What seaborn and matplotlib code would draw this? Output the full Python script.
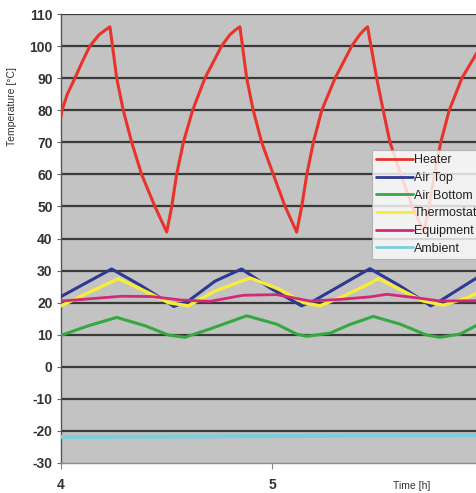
import matplotlib
matplotlib.use("Agg")
import matplotlib.pyplot as plt
import seaborn as sns
import pandas as pd

# ---- data ----
heater_t = [4.000, 4.005, 4.030, 4.066, 4.100, 4.137, 4.180, 4.210, 4.232, 4.264, 4.295, 4.335, 4.382, 4.445, 4.501,
            4.525, 4.548, 4.580, 4.624, 4.682, 4.761, 4.800, 4.826, 4.848, 4.880, 4.911, 4.951, 5.006, 5.062, 5.117,
            5.141, 5.165, 5.196, 5.236, 5.299, 5.378, 5.415, 5.436, 5.453, 5.496, 5.527, 5.559, 5.610, 5.665, 5.720,
            5.745, 5.770, 5.800, 5.840, 5.900, 5.972]
heater_v = [78, 80, 85, 90, 95, 100, 103.5, 105, 106, 90, 80, 70, 60, 50, 42,
            50, 60, 70, 80, 90, 100, 103.5, 105, 106, 90, 80, 70, 60, 50, 42,
            50, 60, 70, 80, 90, 100, 103.5, 105, 106, 90, 80, 70, 60, 50, 42,
            50, 60, 70, 80, 90, 98]

airtop_t = [4.000, 4.240, 4.382, 4.535, 4.603, 4.730, 4.856, 4.990, 5.140, 5.196, 5.464, 5.607, 5.752, 5.796, 5.972]
airtop_v = [21.9, 30.5, 25.2, 18.8, 20.5, 26.7, 30.5, 24.6, 19.0, 20.5, 30.6, 25.2, 19.0, 20.5, 27.8]

airbot_t = [4.000, 4.130, 4.264, 4.398, 4.509, 4.588, 4.706, 4.880, 5.022, 5.117, 5.164, 5.275, 5.370, 5.480,
            5.607, 5.733, 5.796, 5.891, 5.972]
airbot_v = [9.8, 12.8, 15.4, 12.8, 9.9, 9.2, 11.8, 15.9, 13.3, 10.2, 9.5, 10.5, 13.2, 15.7,
            13.3, 9.9, 9.2, 10.2, 13.0]

thermo_t = [4.000, 4.130, 4.272, 4.414, 4.509, 4.603, 4.730, 4.896, 5.038, 5.149, 5.227, 5.338, 5.464, 5.505,
            5.622, 5.717, 5.812, 5.923, 5.972]
thermo_v = [19.0, 23.1, 27.5, 23.1, 20.0, 19.0, 23.6, 27.7, 24.1, 20.0, 19.0, 22.0, 26.0, 27.5,
            23.6, 20.5, 19.2, 21.5, 23.0]

equip_t = [4.000, 4.100, 4.288, 4.430, 4.572, 4.706, 4.864, 5.022, 5.180, 5.320, 5.464, 5.544, 5.686, 5.796, 5.972]
equip_v = [20.5, 21.0, 22.0, 21.9, 20.8, 20.4, 22.3, 22.5, 20.5, 21.0, 21.8, 22.6, 21.5, 20.5, 20.6]

amb_t = [4.000, 5.000, 5.972]
amb_v = [-21.9, -21.6, -21.3]

series_names = ["Heater", "Air Top", "Air Bottom", "Thermostat", "Equipment", "Ambient"]
y_ticks = list(range(-30, 111, 10))
x_ticks = [4, 5]

colors = {"Heater": "#E8332B", "Air Top": "#2E3A8F", "Air Bottom": "#35A843",
          "Thermostat": "#F8EC3B", "Equipment": "#D02A78", "Ambient": "#7ECFDD"}
widths = {"Heater": 2.2, "Air Top": 2.2, "Air Bottom": 2.2, "Thermostat": 2.4, "Equipment": 2.0, "Ambient": 3.0}

data = {"Heater": (heater_t, heater_v), "Air Top": (airtop_t, airtop_v), "Air Bottom": (airbot_t, airbot_v),
        "Thermostat": (thermo_t, thermo_v), "Equipment": (equip_t, equip_v), "Ambient": (amb_t, amb_v)}

sns.set_theme(style="white")
plt.rcParams["font.family"] = ["Liberation Sans", "DejaVu Sans"]
plt.rcParams["axes.unicode_minus"] = False

fig = plt.figure(figsize=(4.77, 4.93), dpi=100)
ax = fig.add_axes([61 / 477, 30 / 493, 416 / 477, 449 / 493])
ax.set_facecolor("#C3C3C3")

for name in series_names:
    t, v = data[name]
    df = pd.DataFrame({"t": t, "v": v})
    sns.lineplot(data=df, x="t", y="v", ax=ax, color=colors[name], lw=widths[name],
                 label=name, estimator=None, sort=False, zorder=3)

ax.set_xlim(4, 4 + 416 / 211)
ax.set_ylim(-30, 110)
ax.set_yticks(y_ticks)
ax.set_xticks(x_ticks)
ax.set_xticklabels([str(x) for x in x_ticks])
for y in y_ticks[1:]:
    ax.axhline(y, color="#3A3A3A", lw=1.6, zorder=1)

for s in ["top", "right"]:
    ax.spines[s].set_visible(False)
ax.spines["left"].set_color("#555555")
ax.spines["left"].set_linewidth(1.0)
ax.spines["bottom"].set_color("#8A8A8A")
ax.spines["bottom"].set_linewidth(1.0)

ax.tick_params(axis="y", left=True, length=3, width=0.8, color="#666666", pad=3,
               labelsize=10, labelcolor="#333333")
ax.tick_params(axis="x", bottom=True, length=4, width=0.8, color="#888888", pad=7,
               labelsize=10, labelcolor="#333333")
for lab in ax.get_yticklabels() + ax.get_xticklabels():
    lab.set_fontweight("bold")

ax.set_xlabel("")
ax.set_ylabel("")
fig.text(12 / 477, 1 - 107 / 493, "Temperature [°C]", rotation=90, ha="center", va="center",
         fontsize=7.5, color="#333333")
fig.text(412 / 477, 1 - 486 / 493, "Time [h]", ha="center", va="center", fontsize=7.5, color="#333333")

leg = ax.legend(loc="upper left", bbox_to_anchor=(372 / 477, 1 - 150 / 493), bbox_transform=fig.transFigure,
                fontsize=9, frameon=True, fancybox=False, handlelength=2.9, handletextpad=0.1,
                labelspacing=0.45, borderpad=0.35, borderaxespad=0)
leg.get_frame().set_facecolor("white")
leg.get_frame().set_edgecolor("#AAAAAA")
leg.get_frame().set_linewidth(0.8)
for line in leg.get_lines():
    line.set_linewidth(2.0)
for txt in leg.get_texts():
    txt.set_color("#222222")

fig.savefig("out.png", dpi=100)
